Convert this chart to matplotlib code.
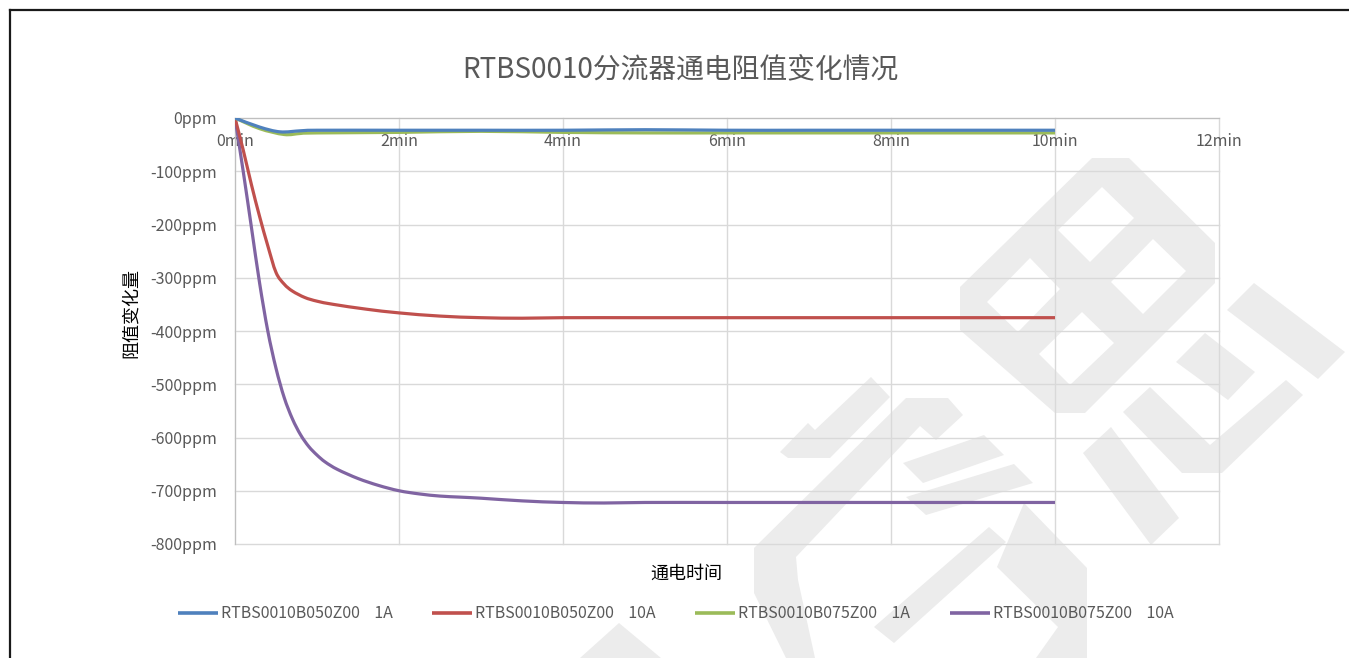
import matplotlib
matplotlib.use("Agg")
import matplotlib.pyplot as plt
from matplotlib.lines import Line2D
from matplotlib.path import Path
from matplotlib.patches import PathPatch, Polygon

plt.rcParams['font.family'] = ['Noto Sans CJK SC', 'DejaVu Sans']

# ---- data (minutes, ppm) ----
t_b050_1a = [0, 0.3, 0.55, 0.8, 1.0, 2, 3, 4, 5, 6, 7, 8, 9, 10]
v_b050_1a = [0, -17, -26, -24, -23, -23, -23, -23, -22, -23, -23, -23, -23, -23]

t_b075_1a = [0, 0.3, 0.6, 0.8, 1.0, 2, 3, 4, 5, 6, 7, 8, 9, 10]
v_b075_1a = [0, -20, -31, -29, -28, -27, -25, -27, -28, -28, -28, -28, -28, -28]

t_b050_10a = [0, 0.1, 0.2, 0.3, 0.4, 0.5, 0.6, 0.7, 0.85, 1.0, 1.2, 1.6, 2.0, 2.5, 3.0, 3.5, 4, 5, 6, 7, 8, 9, 10]
v_b050_10a = [0, -60, -125, -185, -240, -290, -312, -325, -337, -344, -350, -359, -366, -372, -375, -376, -375,
              -375, -375, -375, -375, -375, -375]

t_b075_10a = [0, 0.1, 0.2, 0.3, 0.4, 0.5, 0.6, 0.7, 0.8, 0.9, 1.0, 1.1, 1.25, 1.5, 1.75, 2.0, 2.25, 2.5, 2.75,
              3.0, 3.5, 4.0, 4.5, 5, 6, 7, 8, 9, 10]
v_b075_10a = [0, -100, -205, -310, -400, -470, -525, -565, -595, -617, -633, -646, -660, -677, -690, -700, -706,
              -710, -712, -714, -719, -722, -723, -722, -722, -722, -722, -722, -722]

labels = ['RTBS0010B050Z00    1A', 'RTBS0010B050Z00    10A',
          'RTBS0010B075Z00    1A', 'RTBS0010B075Z00    10A']
colors = ['#4F81BD', '#C0504D', '#9BBB59', '#8064A2']

x_ticks = [0, 2, 4, 6, 8, 10, 12]
x_ticklabels = ['0min', '2min', '4min', '6min', '8min', '10min', '12min']
y_ticks = [0, -100, -200, -300, -400, -500, -600, -700, -800]
y_ticklabels = ['0ppm', '-100ppm', '-200ppm', '-300ppm', '-400ppm', '-500ppm', '-600ppm', '-700ppm', '-800ppm']

title = 'RTBS0010分流器通电阻值变化情况'
xlabel = '通电时间'
ylabel = '阻值变化量'

W, H = 1349, 658
fig = plt.figure(figsize=(W / 100, H / 100), dpi=100)
fig.patch.set_facecolor('white')


def px(x, y):
    return (x / W, 1 - y / H)


# ---- background watermark (decorative, approximate) ----
WM = '#ECECEC'
wm_shapes = [
    [(1092, 158), (1129, 158), (1215, 243), (1215, 283), (1085, 413), (1055, 413), (960, 330), (960, 287)],
    [(1254, 283), (1345, 352), (1318, 379), (1227, 310)],
    [(1205, 333), (1255, 372), (1228, 400), (1176, 362)],
    [(1150, 387), (1210, 445), (1286, 380), (1303, 395), (1222, 473), (1182, 473), (1123, 412)],
    [(1111, 427), (1179, 518), (1151, 545), (1083, 453)],
    [(871, 377), (890, 397), (830, 458), (788, 458), (780, 452), (808, 423), (815, 430)],
    [(906, 398), (948, 398), (963, 415), (936, 440), (920, 426), (796, 557), (798, 580), (815, 658),
     (786, 658), (754, 593), (754, 548)],
    [(984, 435), (1004, 455), (923, 483), (903, 463)],
    [(1014, 464), (1033, 483), (926, 515), (906, 497)],
    [(989, 527), (1006, 542), (894, 643), (874, 627)],
    [(1024, 503), (1087, 568), (1087, 658), (1036, 658), (1058, 627), (997, 567)],
    [(619, 623), (661, 658), (580, 658)],
]
wm_holes = [
    [(1102, 187), (1134, 218), (1090, 262), (1058, 230)],
    [(1153, 239), (1186, 271), (1143, 314), (1111, 282)],
    [(1030, 258), (1060, 289), (1018, 332), (987, 302)],
    [(1082, 312), (1114, 343), (1070, 385), (1039, 354)],
]
for shp in wm_shapes:
    fig.add_artist(Polygon([px(*p) for p in shp], closed=True, transform=fig.transFigure,
                           facecolor=WM, edgecolor='none', zorder=-2))
for shp in wm_holes:
    fig.add_artist(Polygon([px(*p) for p in shp], closed=True, transform=fig.transFigure,
                           facecolor='white', edgecolor='none', zorder=-1))

ax = fig.add_axes([235 / W, 1 - 544 / H, (1219 - 235) / W, (544 - 118) / H])
ax.set_facecolor('none')
ax.set_xlim(0, 12)
ax.set_ylim(-800, 0)


def smooth_path(t, v):
    pts = list(zip(t, v))
    n = len(pts)
    verts = [pts[0]]
    codes = [Path.MOVETO]
    for i in range(n - 1):
        p0 = pts[i - 1] if i > 0 else pts[i]
        p1 = pts[i]
        p2 = pts[i + 1]
        p3 = pts[i + 2] if i + 2 < n else pts[i + 1]
        c1 = (p1[0] + (p2[0] - p0[0]) / 6, p1[1] + (p2[1] - p0[1]) / 6)
        c2 = (p2[0] - (p3[0] - p1[0]) / 6, p2[1] - (p3[1] - p1[1]) / 6)
        verts += [c1, c2, p2]
        codes += [Path.CURVE4] * 3
    return Path(verts, codes)


series = [(t_b050_1a, v_b050_1a), (t_b050_10a, v_b050_10a), (t_b075_1a, v_b075_1a), (t_b075_10a, v_b075_10a)]
for i in [3, 1, 2, 0]:
    t, v = series[i]
    ax.add_patch(PathPatch(smooth_path(t, v), facecolor='none', edgecolor=colors[i], lw=2.3,
                           joinstyle='round', capstyle='butt', zorder=3))

# gridlines (unclipped so the border lines show fully)
for y in y_ticks:
    ax.axhline(y, color='#D9D9D9', lw=1.0, zorder=1, clip_on=False)
for x in x_ticks:
    ax.axvline(x, color='#D9D9D9', lw=1.0, zorder=1, clip_on=False)

ax.set_xticks(x_ticks)
ax.set_xticklabels(x_ticklabels)
ax.set_yticks(y_ticks)
ax.set_yticklabels(y_ticklabels)
for s in ['top', 'right']:
    ax.spines[s].set_visible(False)
ax.spines['bottom'].set_position(('data', 0))
ax.spines['bottom'].set_color('#BFBFBF')
ax.spines['left'].set_color('#BFBFBF')
ax.spines['bottom'].set_zorder(2)
ax.spines['left'].set_zorder(2)
ax.tick_params(axis='both', length=0, labelsize=11.5, labelcolor='#595959')
ax.tick_params(axis='x', pad=10.6)
ax.tick_params(axis='y', pad=12.7)

fig.text(680 / W, 1 - 70 / H, title, ha='center', va='center', fontsize=20, color='#595959')
fig.text(686 / W, 1 - 574 / H, xlabel, ha='center', va='center', fontsize=13, color='black')
fig.text(131 / W, 1 - 313 / H, ylabel, ha='center', va='center', fontsize=13, color='black', rotation=90)

# legend (manual placement to match reference)
leg_line_x = [178, 432, 695, 950]
leg_y = 613
for i in range(4):
    x0 = leg_line_x[i]
    fig.add_artist(Line2D([x0 / W, (x0 + 40) / W], [1 - leg_y / H] * 2, transform=fig.transFigure,
                          color=colors[i], lw=2.6, solid_capstyle='butt'))
    fig.text((x0 + 43) / W, 1 - leg_y / H, labels[i], ha='left', va='center', fontsize=11.5, color='#595959')

# outer frame (left and top)
fig.add_artist(Line2D([9.5 / W, 9.5 / W], [0, 1 - 9.5 / H], transform=fig.transFigure, color='#1a1a1a', lw=1.6))
fig.add_artist(Line2D([9.5 / W, 1.01], [1 - 9.5 / H, 1 - 9.5 / H], transform=fig.transFigure, color='#1a1a1a', lw=1.6))

fig.savefig('out.png', dpi=100)
